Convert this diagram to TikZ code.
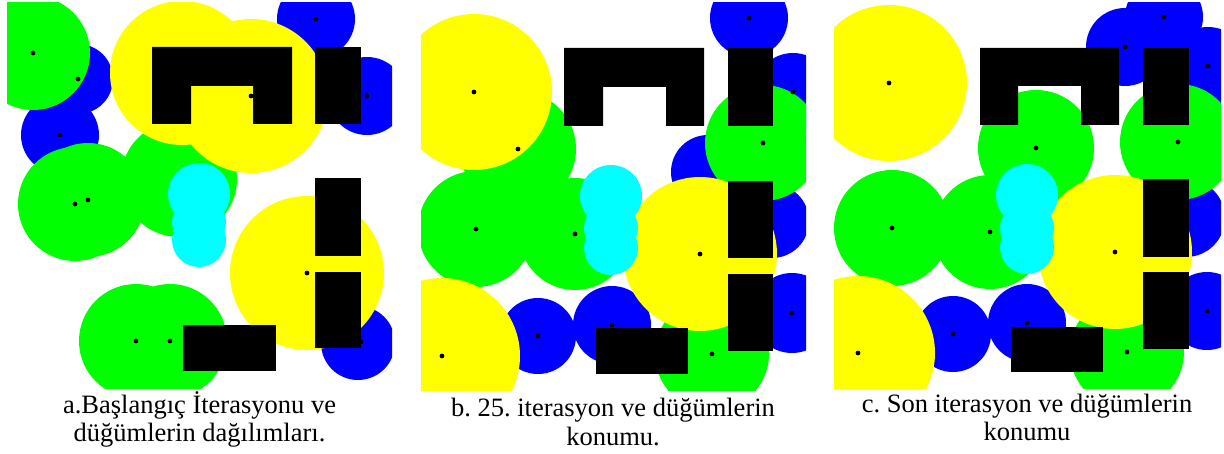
\documentclass[tikz,border=0pt]{standalone}
\usepackage{fontspec}
\setmainfont{Liberation Serif}
\frenchspacing
\definecolor{nblue}{RGB}{0,0,255}
\definecolor{ngreen}{RGB}{0,255,0}
\definecolor{nyellow}{RGB}{255,255,0}
\definecolor{ncyan}{RGB}{0,255,255}
\tikzset{
  bluezone/.style={fill=nblue},
  greenzone/.style={fill=ngreen},
  yellowzone/.style={fill=nyellow},
  cyanzone/.style={fill=ncyan},
  wall/.style={fill=black},
  nodedot/.style={fill=black},
  capline/.style={anchor=base, inner sep=0pt, font=\fontsize{26.5}{28}\selectfont}
}
\begin{document}
\begin{tikzpicture}[x=1pt,y=-1pt]
\useasboundingbox (0,0) rectangle (1224,454);
\fill[white] (0,0) rectangle (1224,454);

% ---------------- Panel a ----------------
\begin{scope}
\clip (7,3) rectangle (392,388);
\foreach \cx/\cy/\r in {78/79/35, 60/135/39, 316/19/39, 367/96/39, 358/343/37}
  \path[bluezone] (\cx,\cy) circle[radius=\r pt];
\foreach \cx/\cy/\r in {33/53/57, 75/204/57, 88/200/57, 179/179/58, 136/341/57, 170/341/57}
  \path[greenzone] (\cx,\cy) circle[radius=\r pt];
\foreach \cx/\cy/\r in {182/73/72, 251/96/77, 307/273/77}
  \path[yellowzone] (\cx,\cy) circle[radius=\r pt];
\foreach \cx/\cy in {33/53, 78/79, 60/135, 75/204, 88/200, 251/96, 316/19, 367/96, 307/273, 136/341, 170/341, 361/342}
  \path[nodedot] (\cx,\cy) circle[radius=2.4pt];
\foreach \cx/\cy/\r in {199/194/31, 199/222/27, 199/240/27}
  \path[cyanzone] (\cx,\cy) circle[radius=\r pt];
\path[wall] (152,47) -- (292,47) -- (292,124) -- (253,124) -- (253,86) -- (191,86) -- (191,124) -- (152,124) -- cycle;
\path[wall] (315,47) rectangle (361,124);
\path[wall] (315,178) rectangle (361,256);
\path[wall] (315,272) rectangle (361,348);
\path[wall] (183,325) rectangle (276,371);
\end{scope}

% ---------------- Panel b ----------------
\begin{scope}
\clip (421,3) rectangle (806,390);
\foreach \cx/\cy/\r in {749/18/39, 793/92/39, 708/172/37, 772/221/37, 792/313/40, 538/336/38, 612/325/39}
  \path[bluezone] (\cx,\cy) circle[radius=\r pt];
\foreach \cx/\cy/\r in {518/149/58, 476/229/58, 575/234/56, 763/143/58, 712/354/57}
  \path[greenzone] (\cx,\cy) circle[radius=\r pt];
\foreach \cx/\cy/\r in {474/92/78, 700/254/77, 442/356/78}
  \path[yellowzone] (\cx,\cy) circle[radius=\r pt];
\foreach \cx/\cy in {474/92, 518/149, 476/229, 575/234, 749/18, 793/92, 763/143, 700/254, 792/313, 442/356, 538/336, 612/325, 712/354}
  \path[nodedot] (\cx,\cy) circle[radius=2.4pt];
\foreach \cx/\cy/\r in {611/196/31, 611/228/27, 611/248/27}
  \path[cyanzone] (\cx,\cy) circle[radius=\r pt];
\path[wall] (564,48) -- (704,48) -- (704,126) -- (666,126) -- (666,87) -- (603,87) -- (603,126) -- (564,126) -- cycle;
\path[wall] (728,48) rectangle (773,126);
\path[wall] (728,181) rectangle (773,258);
\path[wall] (728,274) rectangle (773,351);
\path[wall] (596,328) rectangle (688,374);
\end{scope}

% ---------------- Panel c ----------------
\begin{scope}
\clip (834,3) rectangle (1221,388);
\foreach \cx/\cy/\r in {1164/17/39, 1125/47/39, 1208/66/39, 1186/218/39, 953/334/38, 1027/323/39, 1207/311/39}
  \path[bluezone] (\cx,\cy) circle[radius=\r pt];
\foreach \cx/\cy/\r in {1036/148/58, 1178/142/58, 892/228/58, 990/232/57, 1127/352/57}
  \path[greenzone] (\cx,\cy) circle[radius=\r pt];
\foreach \cx/\cy/\r in {889/83/78, 1115/252/77, 858/353/77}
  \path[yellowzone] (\cx,\cy) circle[radius=\r pt];
\foreach \cx/\cy in {889/83, 1164/17, 1125/47, 1208/66, 1036/148, 1178/142, 892/228, 990/232, 1115/252, 858/353, 953/334, 1027/323, 1127/352, 1207/311}
  \path[nodedot] (\cx,\cy) circle[radius=2.4pt];
\foreach \cx/\cy/\r in {1027/195/31, 1027/228/27, 1027/247/27}
  \path[cyanzone] (\cx,\cy) circle[radius=\r pt];
\path[wall] (980,48) -- (1119,48) -- (1119,125) -- (1081,125) -- (1081,86) -- (1018,86) -- (1018,125) -- (980,125) -- cycle;
\path[wall] (1143,48) rectangle (1189,125);
\path[wall] (1143,179) rectangle (1189,257);
\path[wall] (1143,272) rectangle (1189,349);
\path[wall] (1011,327) rectangle (1103,372);
\end{scope}

% ---------------- Captions ----------------
\node[capline] (capa1) at (199.5,413) {a.Başlangıç İterasyonu ve};
\node[capline] (capa2) at (199.5,441) {düğümlerin dağılımları.};
\node[capline] (capb1) at (613,417) {b. 25. iterasyon ve düğümlerin};
\node[capline] (capb2) at (613,445) {konumu.};
\node[capline] (capc1) at (1027,412) {c. Son iterasyon ve düğümlerin};
\node[capline] (capc2) at (1027,440) {konumu};
\end{tikzpicture}
\end{document}
